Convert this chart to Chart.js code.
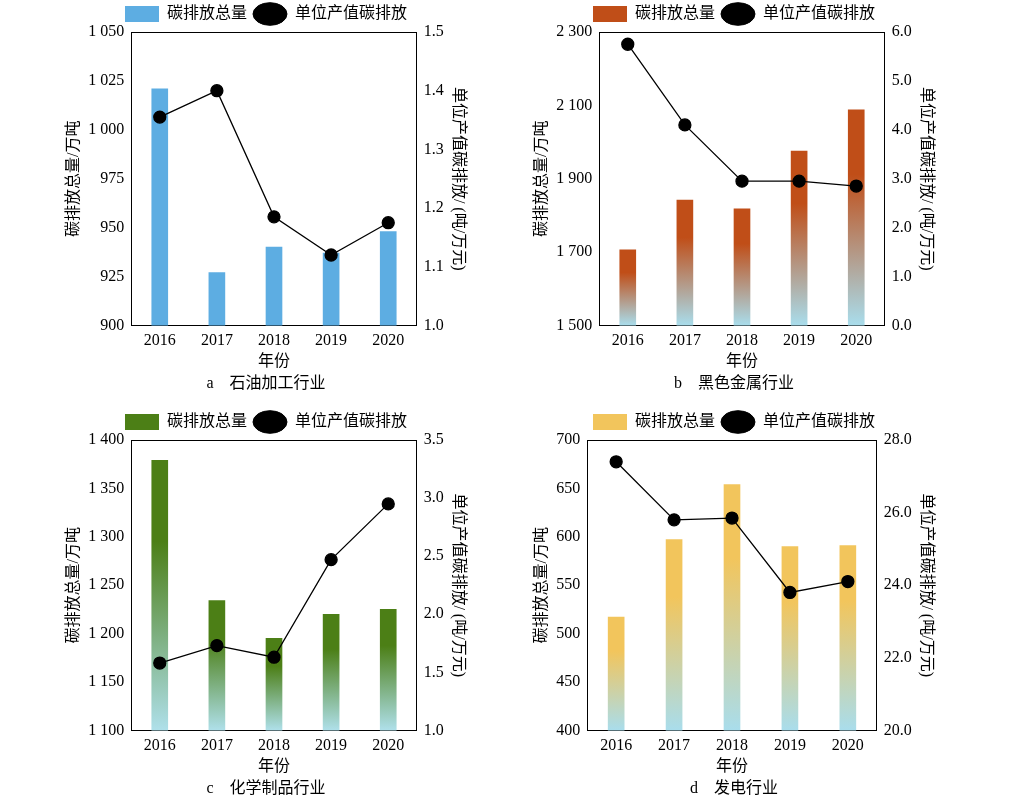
<!DOCTYPE html>
<html><head><meta charset="utf-8">
<script src="https://cdn.jsdelivr.net/npm/chart.js@4"></script>
<style>body{margin:0;background:#fff;width:1021px;height:800px;position:relative;overflow:hidden}
.p{position:absolute;width:510px;height:400px}</style></head>
<body>
<div class="p" style="left:0;top:0"><canvas id="c0" width="510" height="395"></canvas></div>
<div class="p" style="left:468px;top:0"><canvas id="c1" width="510" height="395"></canvas></div>
<div class="p" style="left:0;top:408px"><canvas id="c2" width="510" height="392"></canvas></div>
<div class="p" style="left:468px;top:408px"><canvas id="c3" width="510" height="392"></canvas></div>
<script>
const years=["2016","2017","2018","2019","2020"];
const totalA=[1021,927,940,937,948], intA=[1.355,1.40,1.185,1.12,1.175];
const totalB=[1706,1842,1818,1975,2088], intB=[5.75,4.1,2.95,2.95,2.85];
const totalC=[1379,1234,1195,1220,1225], intC=[1.58,1.73,1.63,2.47,2.95];
const totalD=[517,597,654,590,591], intD=[27.4,25.8,25.85,23.8,24.1];
const titles=["a　石油加工行业","b　黑色金属行业","c　化学制品行业","d　发电行业"];
const FF='"Liberation Serif","Noto Sans CJK SC",serif';
const panels=[
 {t:totalA,i:intA,top:"#5DADE2",bot:"#5DADE2",y:[900,1050,25],r:[1.0,1.5,0.1]},
 {t:totalB,i:intB,top:"#C04E18",bot:"#A9DDEC",y:[1500,2300,200],r:[0,6,1]},
 {t:totalC,i:intC,top:"#4C7F16",bot:"#AFE0EA",y:[1100,1400,50],r:[1.0,3.5,0.5]},
 {t:totalD,i:intD,top:"#F2C55C",bot:"#A9DDEC",y:[400,700,50],r:[20,28,2]}];
const fmt=v=>{const s=String(Math.round(v));return s.length>3?s.slice(0,-3)+" "+s.slice(-3):s;};
panels.forEach((p,k)=>{
 new Chart(document.getElementById("c"+k),{
  data:{labels:years,datasets:[
   {type:"line",label:"单位产值碳排放",data:p.i,yAxisID:"y2",borderColor:"#000",borderWidth:1.3,
    pointRadius:6,pointBackgroundColor:"#000",pointBorderColor:"#000",order:0},
   {type:"bar",label:"碳排放总量",data:p.t,yAxisID:"y",barThickness:16,order:1,
    backgroundColor:ctx=>{const c=ctx.chart;if(!c.chartArea)return p.top;
      const ys=c.scales.y;const v=ctx.raw;if(v==null)return p.top;
      const y0=ys.getPixelForValue(v),y1=c.chartArea.bottom;
      const g=c.ctx.createLinearGradient(0,y0,0,y1);g.addColorStop(0,p.top);g.addColorStop(0.3,p.top);g.addColorStop(1,p.bot);return g;}}
  ]},
  options:{responsive:false,animation:false,devicePixelRatio:1,
   layout:{padding:{left:62,right:40,top:0,bottom:0}},
   plugins:{
    legend:{position:"top",align:"center",labels:{font:{family:FF,size:16},color:"#000",usePointStyle:true,pointStyleWidth:34,padding:6,
      generateLabels:()=>[{text:"碳排放总量",fillStyle:p.top,strokeStyle:p.top,lineWidth:0,pointStyle:"rect",datasetIndex:1},
        {text:"单位产值碳排放",fillStyle:"#000",strokeStyle:"#000",lineWidth:1,pointStyle:"circle",datasetIndex:0}]}},
    title:{display:true,position:"bottom",text:titles[k],font:{family:FF,size:16,weight:"normal"},color:"#000",padding:{top:2,bottom:2}},
    tooltip:{enabled:false}},
   scales:{
    x:{grid:{display:false,tickLength:4},border:{color:"#000",width:1},
      ticks:{color:"#000",maxRotation:0,font:{family:FF,size:16},padding:2},title:{display:true,text:"年份",color:"#000",font:{family:FF,size:16},padding:0}},
    y:{position:"left",min:p.y[0],max:p.y[1],grid:{display:false,tickLength:4},border:{color:"#000"},
      ticks:{stepSize:p.y[2],color:"#000",font:{family:FF,size:16},callback:fmt},
      title:{display:true,text:"碳排放总量/万吨",color:"#000",font:{family:FF,size:16},padding:2}},
    y2:{position:"right",min:p.r[0],max:p.r[1],grid:{display:false,tickLength:4},border:{color:"#000"},
      ticks:{stepSize:p.r[2],color:"#000",font:{family:FF,size:16},callback:v=>v.toFixed(1)},
      title:{display:true,text:"单位产值碳排放/ (吨/万元)",color:"#000",font:{family:FF,size:16},padding:2}}
   }},
  plugins:[{id:"frame",afterDraw(c){const a=c.chartArea,g=c.ctx;g.save();g.strokeStyle="#000";g.lineWidth=1;g.beginPath();g.moveTo(a.left,a.top+0.5);g.lineTo(a.right,a.top+0.5);g.stroke();g.restore();}}]
 });
});
</script></body></html>
